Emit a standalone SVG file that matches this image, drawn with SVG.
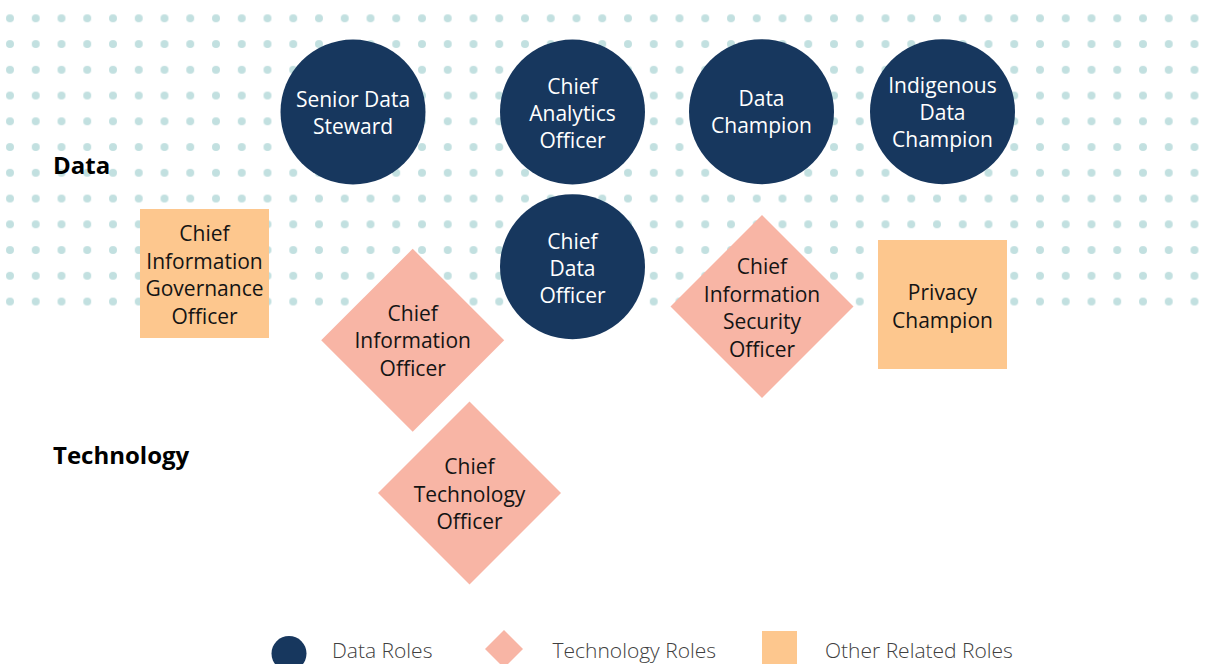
<svg xmlns="http://www.w3.org/2000/svg" width="1213" height="664" viewBox="0 0 1213 664">
  <defs>
    <pattern id="dots" x="-2.875" y="5.425" width="25.75" height="25.75" patternUnits="userSpaceOnUse">
      <circle cx="12.875" cy="12.875" r="4" fill="#C2E0E0"/>
    </pattern>
  </defs>
  <style>
    .data { fill: #17375E; }
    .tech { fill: #F8B5A5; }
    .other { fill: #FDC78E; }
    .t { font-family: "Open Sans", "Noto Sans", "Liberation Sans", sans-serif; font-size: 21px; text-anchor: middle; }
    .w { fill: #FFFFFF; }
    .k { fill: #141414; }
    .hdr { font-family: "Open Sans", "Noto Sans", "Liberation Sans", sans-serif; font-size: 24px; font-weight: bold; fill: #000000; }
    .leg { font-family: "Open Sans", "Noto Sans", "Liberation Sans", sans-serif; font-size: 21px; font-weight: 300; fill: #404040; }
  </style>
  <rect width="1213" height="664" fill="#FFFFFF"/>
  <rect id="dot-grid" x="-2.875" y="5.425" width="1210.25" height="309" fill="url(#dots)"/>

  <g id="section-labels">
    <text class="hdr" x="53" y="173.5">Data</text>
    <text class="hdr" x="53" y="463.5">Technology</text>
  </g>

  <g id="connectors"/>

  <g id="senior-data-steward">
    <circle class="data" cx="353" cy="112" r="72.5"/>
    <text class="t w" x="353" y="106.5">Senior Data</text>
    <text class="t w" x="353" y="133.5">Steward</text>
  </g>
  <g id="chief-analytics-officer">
    <circle class="data" cx="572.5" cy="112" r="72.5"/>
    <text class="t w" x="572.5" y="93.5">Chief</text>
    <text class="t w" x="572.5" y="120.5">Analytics</text>
    <text class="t w" x="572.5" y="147.5">Officer</text>
  </g>
  <g id="data-champion">
    <circle class="data" cx="761.5" cy="111.7" r="72.5"/>
    <text class="t w" x="761.5" y="106">Data</text>
    <text class="t w" x="761.5" y="133">Champion</text>
  </g>
  <g id="indigenous-data-champion">
    <circle class="data" cx="942.5" cy="111.7" r="72.5"/>
    <text class="t w" x="942.5" y="93.3">Indigenous</text>
    <text class="t w" x="942.5" y="120.3">Data</text>
    <text class="t w" x="942.5" y="147.3">Champion</text>
  </g>
  <g id="chief-data-officer">
    <circle class="data" cx="572.5" cy="266.7" r="72.5"/>
    <text class="t w" x="572.5" y="248.5">Chief</text>
    <text class="t w" x="572.5" y="276">Data</text>
    <text class="t w" x="572.5" y="303">Officer</text>
  </g>

  <g id="chief-information-governance-officer">
    <rect class="other" x="140" y="209" width="129" height="129"/>
    <text class="t k" x="204.5" y="240.5">Chief</text>
    <text class="t k" x="204.5" y="268.5">Information</text>
    <text class="t k" x="204.5" y="296">Governance</text>
    <text class="t k" x="204.5" y="323.5">Officer</text>
  </g>
  <g id="privacy-champion">
    <rect class="other" x="878" y="240" width="129" height="129"/>
    <text class="t k" x="942.5" y="300">Privacy</text>
    <text class="t k" x="942.5" y="327.5">Champion</text>
  </g>

  <g id="chief-information-officer">
    <polygon class="tech" points="412.7,248.8 504.2,340.3 412.7,431.8 321.2,340.3"/>
    <text class="t k" x="412.7" y="321">Chief</text>
    <text class="t k" x="412.7" y="348.3">Information</text>
    <text class="t k" x="412.7" y="375.6">Officer</text>
  </g>
  <g id="chief-information-security-officer">
    <polygon class="tech" points="762,215 853.5,306.5 762,398 670.5,306.5"/>
    <text class="t k" x="762" y="274">Chief</text>
    <text class="t k" x="762" y="301.5">Information</text>
    <text class="t k" x="762" y="329">Security</text>
    <text class="t k" x="762" y="356.5">Officer</text>
  </g>
  <g id="chief-technology-officer">
    <polygon class="tech" points="469.5,401.5 561,493 469.5,584.5 378,493"/>
    <text class="t k" x="469.5" y="474">Chief</text>
    <text class="t k" x="469.5" y="501.5">Technology</text>
    <text class="t k" x="469.5" y="528.8">Officer</text>
  </g>

  <g id="legend">
    <circle class="data" cx="289" cy="653.5" r="17.5"/>
    <text class="leg" x="332" y="657.5">Data Roles</text>
    <polygon class="tech" points="504,630 523,649 504,668 485,649"/>
    <text class="leg" x="552.5" y="657.5">Technology Roles</text>
    <rect class="other" x="762" y="631" width="35" height="35"/>
    <text class="leg" x="825" y="657.5">Other Related Roles</text>
  </g>
</svg>
